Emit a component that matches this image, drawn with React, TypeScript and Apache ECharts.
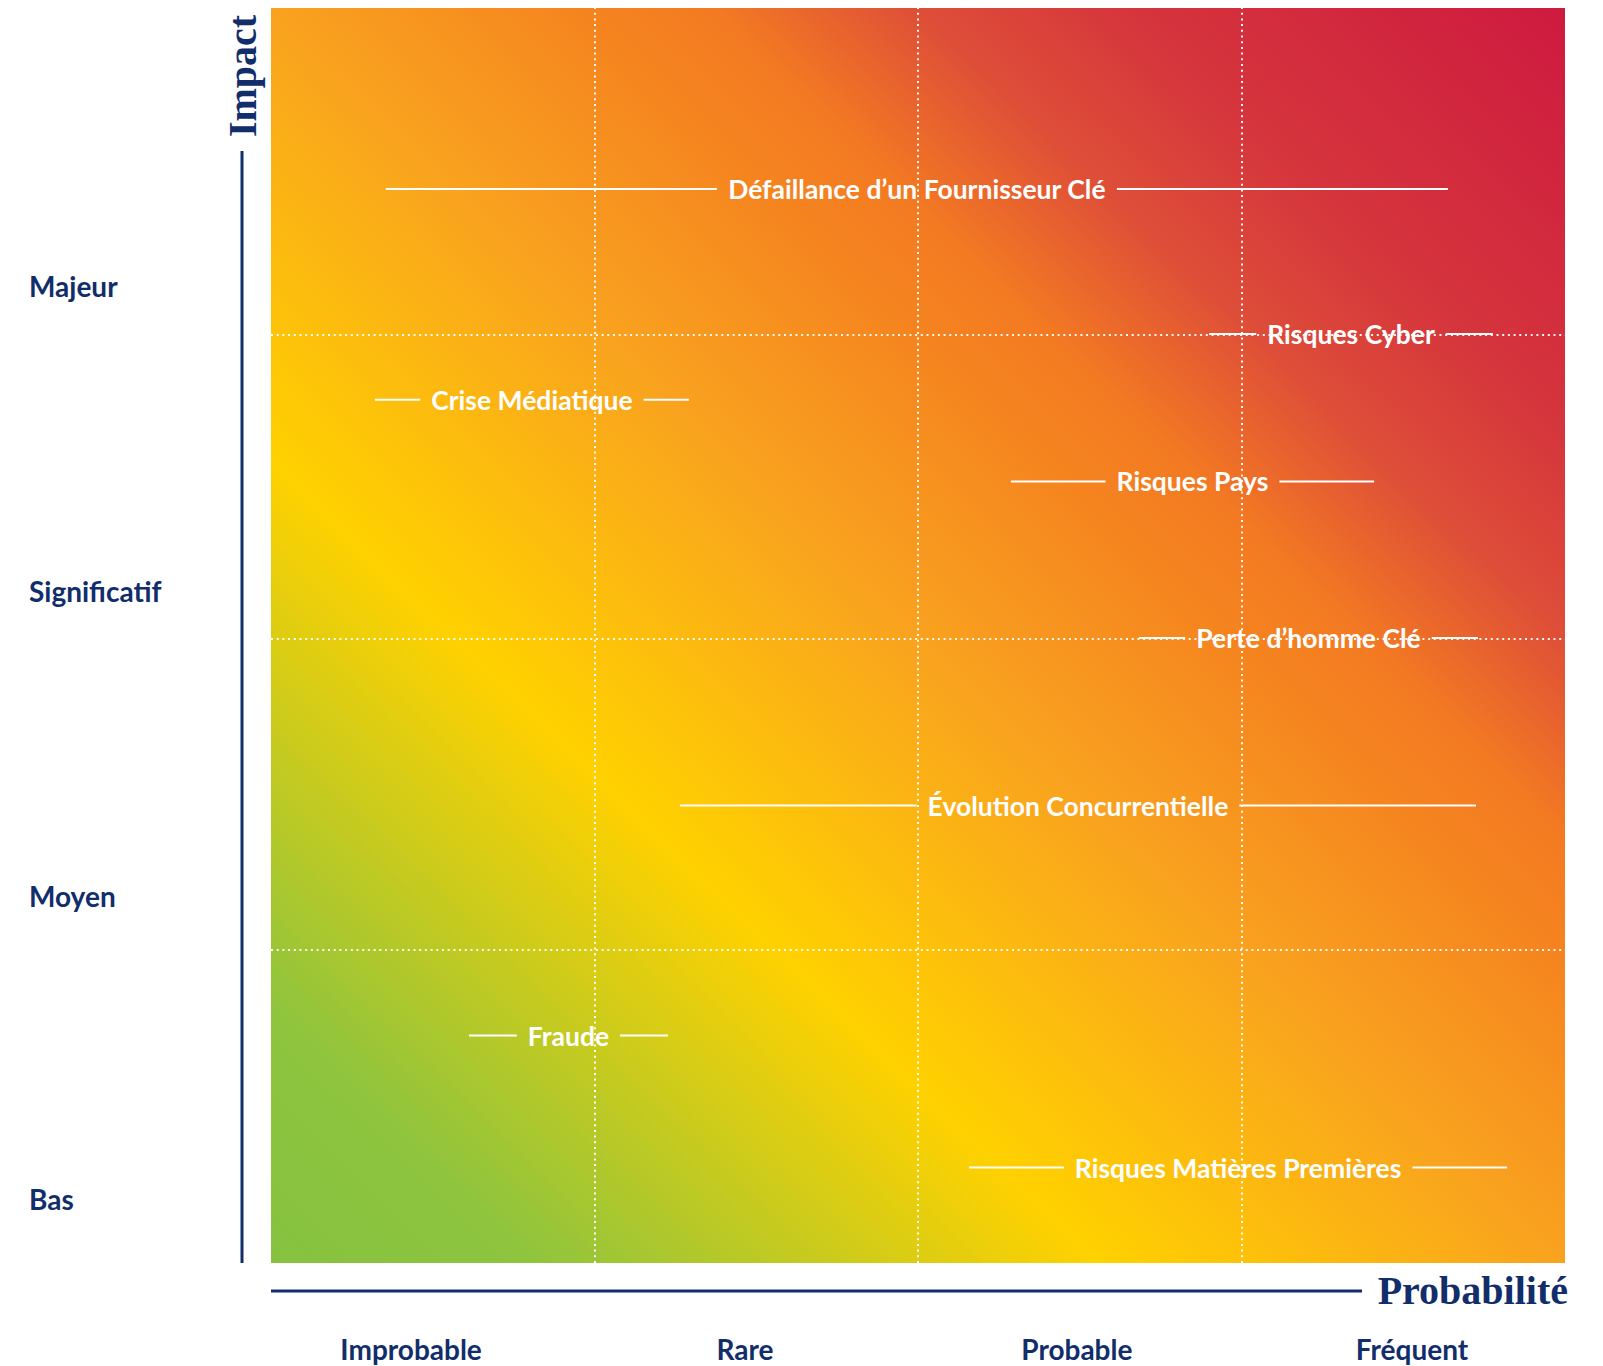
import React, { useEffect, useRef } from 'react';
import * as echarts from 'echarts';

// Axis categories and their label positions (value units on a 0..4 scale)
const probabilityLabels = ['Improbable', 'Rare', 'Probable', 'Fréquent'];
const probabilityTickValues = [0.433, 1.465, 2.491, 3.527];
const impactLabels = ['Bas', 'Moyen', 'Significatif', 'Majeur'];
const impactTickValues = [0.204, 1.17, 2.142, 3.114];

// Dotted separators of the matrix
const probabilityGridValues = [1, 2, 3];
const impactGridValues = [1, 1.99, 2.96];

// Risks: probability range (start..end) and impact level
const riskNames = [
  'Défaillance d’un Fournisseur Clé',
  'Risques Cyber',
  'Crise Médiatique',
  'Risques Pays',
  'Perte d’homme Clé',
  'Évolution Concurrentielle',
  'Fraude',
  'Risques Matières Premières',
];
const riskStart = [0.355, 2.9, 0.321, 2.287, 2.683, 1.264, 0.612, 2.158];
const riskEnd = [3.638, 3.777, 1.292, 3.41, 3.731, 3.725, 1.227, 3.821];
const riskImpact = [3.423, 2.961, 2.751, 2.491, 1.992, 1.458, 0.725, 0.304];

const NAVY = '#112E6A';
const SANS = 'Lato, "Open Sans", sans-serif';
const SERIF = '"Liberation Serif", "DejaVu Serif", serif';
const RISK_FONT_SIZE = 26.5;
const AXIS_FONT_SIZE = 28;

function nearestIndex(arr: number[], v: number) {
  let best = 0;
  for (let i = 1; i < arr.length; i++) {
    if (Math.abs(arr[i] - v) < Math.abs(arr[best] - v)) best = i;
  }
  return best;
}

export default function App() {
  const ref = useRef<HTMLDivElement>(null);

  useEffect(() => {
    document.body.style.margin = '0';
    if (!ref.current) return;

    const canvas = document.createElement('canvas');
    const ctx = canvas.getContext('2d')!;
    ctx.font = `bold ${RISK_FONT_SIZE}px ${SANS}`;
    const textWidths = riskNames.map((n) => ctx.measureText(n).width);

    const chart = echarts.init(ref.current, null, { renderer: 'svg' });

    const riskData = riskNames.map((n, i) => [riskStart[i], riskEnd[i], riskImpact[i]]);

    const option: any = {
      animation: false,
      grid: {
        left: 271,
        top: 8,
        right: 38,
        bottom: 103,
        show: true,
        borderWidth: 0,
        backgroundColor: new echarts.graphic.LinearGradient(0, 1, 1, 0, [
          { offset: 0, color: '#86C240' },
          { offset: 0.1, color: '#8EC43E' },
          { offset: 0.32, color: '#FFD100' },
          { offset: 0.5, color: '#F9A21F' },
          { offset: 0.62, color: '#F5841F' },
          { offset: 0.67, color: '#F37A22' },
          { offset: 0.75, color: '#DE4E38' },
          { offset: 0.83, color: '#D5353C' },
          { offset: 1, color: '#CE1A40' },
        ]),
      },
      xAxis: {
        type: 'value',
        min: 0,
        max: 4,
        axisLine: { show: false },
        axisTick: { show: false },
        splitLine: { show: false },
        axisLabel: {
          customValues: probabilityTickValues,
          formatter: (v: number) => probabilityLabels[nearestIndex(probabilityTickValues, v)],
          color: NAVY,
          fontFamily: SANS,
          fontWeight: 'bold',
          fontSize: AXIS_FONT_SIZE,
          margin: 72,
        },
      },
      yAxis: {
        type: 'value',
        min: 0,
        max: 4,
        axisLine: { show: false },
        axisTick: { show: false },
        splitLine: { show: false },
        axisLabel: {
          customValues: impactTickValues,
          formatter: (v: number) => impactLabels[nearestIndex(impactTickValues, v)],
          color: NAVY,
          fontFamily: SANS,
          fontWeight: 'bold',
          fontSize: AXIS_FONT_SIZE,
          align: 'left',
          margin: 242,
        },
      },
      series: [
        {
          type: 'custom',
          coordinateSystem: 'cartesian2d',
          encode: { x: [0, 1], y: 2 },
          data: riskData,
          silent: true,
          z: 10,
          markLine: {
            silent: true,
            symbol: 'none',
            label: { show: false },
            lineStyle: { color: 'rgba(255,255,255,0.95)', width: 2, type: [2, 3.7] },
            data: [
              ...probabilityGridValues.map((v) => ({ xAxis: v })),
              ...impactGridValues.map((v) => ({ yAxis: v })),
            ],
          },
          renderItem: (params: any, api: any) => {
            const i = params.dataIndex;
            const p1 = api.coord([api.value(0), api.value(2)]);
            const p2 = api.coord([api.value(1), api.value(2)]);
            const cx = (p1[0] + p2[0]) / 2;
            const y = p1[1];
            const w = textWidths[i];
            const gap = 11;
            return {
              type: 'group',
              children: [
                {
                  type: 'line',
                  shape: { x1: p1[0], y1: y, x2: cx - w / 2 - gap, y2: y },
                  style: { stroke: '#ffffff', lineWidth: 2 },
                },
                {
                  type: 'line',
                  shape: { x1: cx + w / 2 + gap, y1: y, x2: p2[0], y2: y },
                  style: { stroke: '#ffffff', lineWidth: 2 },
                },
                {
                  type: 'text',
                  x: cx,
                  y: y,
                  style: {
                    text: riskNames[i],
                    fill: '#ffffff',
                    font: `bold ${RISK_FONT_SIZE}px ${SANS}`,
                    align: 'center',
                    verticalAlign: 'middle',
                    textAlign: 'center',
                    textVerticalAlign: 'middle',
                  },
                },
              ],
            };
          },
        },
      ],
      graphic: [
        {
          type: 'line',
          shape: { x1: 242, y1: 151, x2: 242, y2: 1263 },
          style: { stroke: NAVY, lineWidth: 3 },
        },
        {
          type: 'text',
          x: 242,
          y: 76,
          rotation: Math.PI / 2,
          style: {
            text: 'Impact',
            font: `bold 40px ${SERIF}`,
            fill: NAVY,
            align: 'center',
            verticalAlign: 'middle',
            textAlign: 'center',
            textVerticalAlign: 'middle',
          },
        },
        {
          type: 'line',
          shape: { x1: 271, y1: 1291, x2: 1362, y2: 1291 },
          style: { stroke: NAVY, lineWidth: 3 },
        },
        {
          type: 'text',
          x: 1568,
          y: 1290,
          style: {
            text: 'Probabilité',
            font: `bold 40px ${SERIF}`,
            fill: NAVY,
            align: 'right',
            verticalAlign: 'middle',
            textAlign: 'right',
            textVerticalAlign: 'middle',
          },
        },
      ],
    };

    chart.setOption(option);
    return () => chart.dispose();
  }, []);

  return <div ref={ref} style={{ width: 1603, height: 1366 }} />;
}
